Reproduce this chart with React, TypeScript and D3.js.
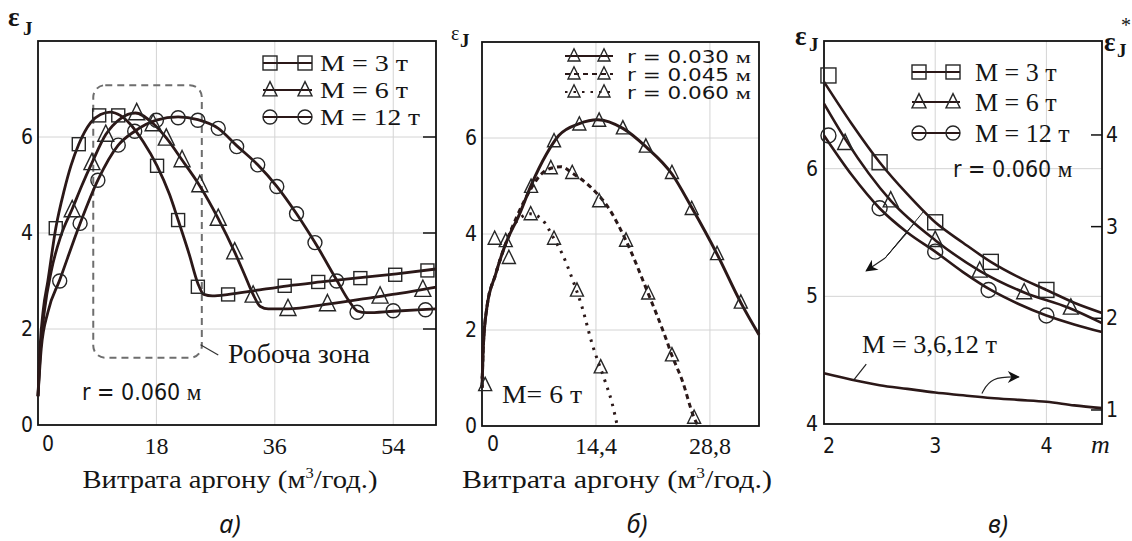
'use client';

import React, { useEffect, useRef } from 'react';
import * as d3 from 'd3';

type Pt = [number, number];

// ---------- panel а) : ε_J vs argon flow, r = 0.060 м ----------
const aXTicks = [0, 18, 36, 54];
const aYTicks = [0, 2, 4, 6];
const aGridX = [18, 36, 54];
const aGridY = [2, 4, 6];

const aM3Line: Pt[] = [[0, 0.6], [0.3, 1.6], [0.8, 2.4], [1.5, 3.0], [2.7, 4.1], [4, 4.9], [5, 5.4], [6.2, 5.85], [8, 6.3], [9.5, 6.47], [11, 6.52], [12.5, 6.45], [14, 6.27], [16, 5.9], [18.1, 5.4], [20, 4.8], [21.3, 4.27], [23, 3.55], [24.3, 2.95], [25.2, 2.72], [26.5, 2.69], [29, 2.72], [33, 2.8], [38, 2.9], [43, 2.98], [49, 3.07], [54.5, 3.15], [60.5, 3.25]];
const aM3Marks: Pt[] = [[2.7, 4.1], [6.2, 5.85], [9.3, 6.45], [12.2, 6.45], [18.1, 5.4], [21.3, 4.27], [24.3, 2.88], [28.9, 2.72], [37.5, 2.9], [42.6, 2.98], [49, 3.06], [54.3, 3.13], [59.2, 3.22]];

const aM6Line: Pt[] = [[0, 0.6], [0.4, 1.6], [1, 2.4], [2, 3.2], [3.5, 3.95], [5.2, 4.5], [6.7, 5.0], [8.2, 5.46], [10.3, 6.05], [12.5, 6.38], [14.8, 6.5], [17.5, 6.28], [19.5, 5.98], [21.9, 5.52], [24.6, 4.98], [27.4, 4.3], [29.9, 3.6], [31.5, 3.1], [32.7, 2.72], [33.8, 2.47], [35, 2.42], [38, 2.42], [44, 2.52], [51, 2.66], [55, 2.74], [60.5, 2.87]];
const aM6Marks: Pt[] = [[5.2, 4.48], [8.2, 5.46], [10.3, 6.05], [15, 6.5], [17.5, 6.27], [19.5, 5.97], [21.9, 5.52], [24.6, 5.0], [27.4, 4.3], [29.9, 3.6], [32.7, 2.7], [38, 2.42], [44, 2.52], [52, 2.68], [58.5, 2.82]];

const aM12Line: Pt[] = [[0, 0.6], [0.5, 1.6], [1.5, 2.35], [3.3, 3.02], [6.4, 4.2], [9.1, 5.1], [12.2, 5.83], [14.7, 6.12], [18, 6.35], [21.3, 6.42], [24.3, 6.36], [27.4, 6.18], [30.2, 5.82], [33.4, 5.42], [36.3, 4.97], [39.3, 4.4], [42.1, 3.8], [45.4, 3.02], [47.3, 2.58], [48.6, 2.37], [50, 2.34], [54, 2.37], [60.5, 2.42]];
const aM12Marks: Pt[] = [[3.3, 3.0], [6.4, 4.2], [9.1, 5.1], [12.2, 5.83], [14.7, 6.12], [18, 6.35], [21.3, 6.4], [24.3, 6.35], [27.4, 6.18], [30.2, 5.8], [33.4, 5.42], [36.3, 4.97], [39.3, 4.4], [42.1, 3.8], [45.4, 3.0], [48.5, 2.35], [54, 2.38], [58.9, 2.4]];

const aZone = { x0: 8.4, x1: 24.9, y0: 1.4, y1: 7.08 };
const aZoneLeader: Pt[] = [[24.7, 1.67], [27.4, 1.46]];
const aLegend = ['M = 3 т', 'M = 6 т', 'M = 12 т'];

// ---------- panel б) : M = 6 т, different r ----------
const bXTicks = [0, 14.4, 28.8];
const bXTickLabels = ['0', '14,4', '28,8'];
const bYTicks = [0, 2, 4, 6];
const bGridX = [14.4, 28.8];
const bGridY = [2, 4, 6];

const bR030Line: Pt[] = [[0, 0.8], [0.15, 1.6], [0.6, 2.45], [1.7, 3.15], [3, 3.8], [4.7, 4.4], [6.3, 5.05], [8.1, 5.65], [9.7, 6.05], [12.3, 6.3], [14.6, 6.38], [17.8, 6.2], [20.7, 5.82], [24, 5.25], [26.5, 4.55], [29.7, 3.58], [32.7, 2.57], [35, 1.9]];
const bR030Marks: Pt[] = [[3, 3.85], [6.2, 4.98], [9.1, 5.93], [12.3, 6.28], [14.8, 6.36], [17.8, 6.2], [20.7, 5.82], [24, 5.27], [26.5, 4.52], [29.7, 3.58], [32.7, 2.57]];

const bR045Line: Pt[] = [[0, 0.8], [0.15, 1.6], [0.6, 2.45], [1.7, 3.15], [3, 3.8], [4.5, 4.4], [6.2, 4.95], [7.5, 5.25], [8.7, 5.37], [10, 5.4], [11.4, 5.27], [13.9, 4.95], [16, 4.54], [18.2, 3.86], [21, 2.76], [23.2, 1.84], [24, 1.47], [25.3, 0.95], [26.8, 0.17], [27.3, 0]];
const bR045Marks: Pt[] = [[3.4, 3.5], [8.7, 5.37], [11.4, 5.27], [14.8, 4.68], [18.2, 3.86], [21, 2.76], [24, 1.47], [26.8, 0.17]];

const bR060Line: Pt[] = [[0, 0.8], [0.15, 1.6], [0.6, 2.45], [1.7, 3.15], [3, 3.8], [4.3, 4.25], [6.1, 4.42], [7.6, 4.3], [9.1, 3.9], [10.1, 3.6], [11.4, 3.07], [12.6, 2.5], [13.9, 1.72], [15.6, 0.91], [16.4, 0.5], [17.1, 0]];
const bR060Marks: Pt[] = [[0.4, 0.85], [1.6, 3.9], [6.15, 4.41], [9.1, 3.9], [12, 2.82], [15, 1.22]];
const bLegend = ['r = 0.030 ', 'r = 0.045 ', 'r = 0.060 '];

// ---------- panel в) : ε_J and ε*_J vs m ----------
const cXTicks = [2, 3, 4];
const cYTicksL = [4, 5, 6];
const cYTicksR = [1, 2, 3, 4];
const cGridX = [3, 4];
const cGridY = [5, 6];

const cM3Line: Pt[] = [[2, 6.68], [2.25, 6.35], [2.5, 6.05], [2.75, 5.8], [3, 5.58], [3.25, 5.42], [3.5, 5.27], [3.75, 5.15], [4, 5.05], [4.25, 4.95], [4.5, 4.87]];
const cM3Marks: Pt[] = [[2.04, 6.73], [2.5, 6.05], [3, 5.58], [3.5, 5.27], [4, 5.05]];
const cM6Line: Pt[] = [[2, 6.51], [2.2, 6.22], [2.6, 5.75], [3, 5.44], [3.4, 5.2], [3.8, 5.03], [4.2, 4.91], [4.5, 4.79]];
const cM6Marks: Pt[] = [[2.19, 6.2], [2.6, 5.75], [3, 5.44], [3.4, 5.2], [3.8, 5.03], [4.22, 4.91]];
const cM12Line: Pt[] = [[2, 6.26], [2.25, 5.95], [2.5, 5.69], [2.75, 5.5], [3, 5.35], [3.25, 5.19], [3.5, 5.05], [3.75, 4.94], [4, 4.85], [4.25, 4.78], [4.5, 4.72]];
const cM12Marks: Pt[] = [[2.04, 6.26], [2.5, 5.69], [3, 5.35], [3.48, 5.05], [4, 4.85]];
// right axis (ε*_J), same for M = 3, 6, 12 т
const cStarLine: Pt[] = [[2, 1.4], [2.25, 1.33], [2.5, 1.27], [2.75, 1.23], [3, 1.19], [3.25, 1.16], [3.5, 1.13], [3.75, 1.11], [4, 1.09], [4.25, 1.05], [4.5, 1.02]];

const cArrowFrom: Pt[] = [[2.9, 5.67], [2.82, 5.58], [2.75, 5.5]];
const cArrowJoin: Pt = [2.55, 5.3];
const cArrowTip: Pt = [2.38, 5.2];
const cStarArrow: Pt[] = [[3.42, 1.18], [3.5, 1.36], [3.75, 1.36]];
const cStarLeader: Pt[] = [[2.27, 1.33], [2.38, 1.5]];
const cLegend = ['M = 3 т', 'M = 6 т', 'M = 12 т'];

const SERIF = "'Liberation Serif', 'Times New Roman', serif";
const SANS = "'Liberation Sans Narrow', 'DejaVu Sans Condensed', 'Liberation Sans', sans-serif";
const INK = '#2b1818';
const GRID = '#d4d4d4';

function addText(g: any, x: number, y: number, str: string, o: any = {}) {
  const t = g.append('text')
    .attr('x', x)
    .attr('y', y)
    .attr('font-family', o.family || SERIF)
    .attr('font-size', o.size || 26)
    .attr('font-weight', o.weight || 'normal')
    .attr('font-style', o.style || 'normal')
    .attr('text-anchor', o.anchor || 'start')
    .attr('fill', '#151515')
    .text(str);
  if (o.len) t.attr('textLength', o.len).attr('lengthAdjust', 'spacingAndGlyphs');
  return t;
}

function marker(g: any, kind: string, cx: number, cy: number, s: number) {
  let m;
  if (kind === 'square') {
    m = g.append('rect').attr('x', cx - s / 2).attr('y', cy - s / 2).attr('width', s).attr('height', s);
  } else if (kind === 'triangle') {
    m = g.append('path').attr('d', `M${cx},${cy - s * 0.6}L${cx + s / 2},${cy + s * 0.42}L${cx - s / 2},${cy + s * 0.42}Z`);
  } else {
    m = g.append('circle').attr('cx', cx).attr('cy', cy).attr('r', s / 2);
  }
  m.attr('fill', 'none').attr('stroke', '#262626').attr('stroke-width', 1.4);
}

function frame(g: any, x: any, y: any, gx: number[], gy: number[]) {
  const [x0, x1] = x.range();
  const [y0, y1] = y.range();
  g.selectAll(null).data(gx).enter().append('line')
    .attr('x1', (d: number) => x(d)).attr('x2', (d: number) => x(d))
    .attr('y1', y0).attr('y2', y1)
    .attr('stroke', GRID).attr('stroke-width', 1);
  g.selectAll(null).data(gy).enter().append('line')
    .attr('y1', (d: number) => y(d)).attr('y2', (d: number) => y(d))
    .attr('x1', x0).attr('x2', x1)
    .attr('stroke', GRID).attr('stroke-width', 1);
  g.append('rect')
    .attr('x', x0).attr('y', y1)
    .attr('width', x1 - x0).attr('height', y0 - y1)
    .attr('fill', 'none').attr('stroke', '#111').attr('stroke-width', 1.8);
}

function curve(g: any, pts: Pt[], x: any, y: any, o: any = {}) {
  const line = d3.line<Pt>()
    .x(d => x(d[0]))
    .y(d => y(d[1]))
    .curve(o.straight ? d3.curveLinear : d3.curveMonotoneX);
  const p = g.append('path')
    .datum(pts)
    .attr('fill', 'none')
    .attr('stroke', o.color || INK)
    .attr('stroke-width', o.width || 2.8)
    .attr('stroke-linejoin', 'round')
    .attr('d', line);
  if (o.dash) p.attr('stroke-dasharray', o.dash);
  if (o.arrow) p.attr('marker-end', 'url(#arrowHead)');
  return p;
}

function marks(g: any, pts: Pt[], kind: string, x: any, y: any, s: number) {
  pts.forEach(d => marker(g, kind, x(d[0]), y(d[1]), s));
}

function axisTitle(g: any, cx: number, len: number) {
  const t = g.append('text')
    .attr('x', cx).attr('y', 488)
    .attr('text-anchor', 'middle')
    .attr('font-family', SERIF).attr('font-size', 26)
    .attr('fill', '#151515')
    .attr('textLength', len).attr('lengthAdjust', 'spacingAndGlyphs');
  t.append('tspan').text('Витрата аргону (м');
  t.append('tspan').attr('font-size', 15).attr('dy', -10).text('3');
  t.append('tspan').attr('dy', 10).text('/год.)');
}

export default function App() {
  const svgRef = useRef<SVGSVGElement>(null);

  useEffect(() => {
    if (!svgRef.current) return;
    const svg = d3.select(svgRef.current);
    svg.selectAll('*').remove();

    svg.append('defs').append('marker')
      .attr('id', 'arrowHead')
      .attr('viewBox', '0 0 10 10')
      .attr('refX', 9).attr('refY', 5)
      .attr('markerWidth', 16).attr('markerHeight', 12)
      .attr('markerUnits', 'userSpaceOnUse')
      .attr('orient', 'auto')
      .append('path')
      .attr('d', 'M0,0L10,5L0,10L3,5Z')
      .attr('fill', '#111');

    svg.append('rect').attr('width', 1132).attr('height', 541).attr('fill', '#fff');

    // ================= а) =================
    const ga = svg.append('g');
    const xa = d3.scaleLinear().domain([0, 60.5]).range([38, 436]);
    const ya = d3.scaleLinear().domain([0, 8]).range([425, 41]);
    frame(ga, xa, ya, aGridX, aGridY);

    aGridY.forEach(v => {
      ga.append('line').attr('x1', xa.range()[1] - 13).attr('x2', xa.range()[1])
        .attr('y1', ya(v)).attr('y2', ya(v)).attr('stroke', '#111').attr('stroke-width', 1.5);
    });

    // working zone
    ga.append('rect')
      .attr('x', xa(aZone.x0)).attr('y', ya(aZone.y1))
      .attr('width', xa(aZone.x1) - xa(aZone.x0))
      .attr('height', ya(aZone.y0) - ya(aZone.y1))
      .attr('rx', 12)
      .attr('fill', 'none').attr('stroke', '#6e6e6e')
      .attr('stroke-width', 2).attr('stroke-dasharray', '7,5');
    curve(ga, aZoneLeader, xa, ya, { straight: true, width: 1.2, color: '#333' });
    addText(ga, 228, 363, 'Робоча зона', { size: 27, len: 142 });

    curve(ga, aM3Line, xa, ya);
    curve(ga, aM6Line, xa, ya);
    curve(ga, aM12Line, xa, ya);
    marks(ga, aM3Marks, 'square', xa, ya, 13);
    marks(ga, aM6Marks, 'triangle', xa, ya, 16);
    marks(ga, aM12Marks, 'circle', xa, ya, 14);

    const rA = addText(ga, 82, 400, 'r = 0.060 ', { family: SANS, size: 23 });
    rA.append('tspan').attr('font-family', SERIF).text('м');

    const aKinds = ['square', 'triangle', 'circle'];
    const aRows = [63, 90, 117];
    const aLens = [88, 88, 100];
    aLegend.forEach((lab, i) => {
      const cy = aRows[i];
      ga.append('line').attr('x1', 263).attr('x2', 312).attr('y1', cy).attr('y2', cy)
        .attr('stroke', INK).attr('stroke-width', 2);
      marker(ga, aKinds[i], 270, cy, 14);
      marker(ga, aKinds[i], 305, cy, 14);
      addText(ga, 320, cy + 8, lab, { size: 23, len: aLens[i] });
    });

    aYTicks.forEach(v => addText(ga, 33, ya(v) + 7, String(v), { family: SANS, size: 21, anchor: 'end' }));
    aXTicks.forEach(v => {
      if (v === 0) addText(ga, 42, 451, '0', { family: SANS, size: 21 });
      else addText(ga, xa(v), 454, String(v), { size: 24, anchor: 'middle' });
    });
    axisTitle(ga, 230, 295);
    addText(ga, 8, 26, 'ε', { size: 27, weight: 'bold' });
    addText(ga, 23, 35, 'J', { size: 19, weight: 'bold' });
    addText(ga, 230, 533, 'а)', { family: "'Noto Sans', sans-serif", size: 25, style: 'italic', anchor: 'middle' });

    // ================= б) =================
    const gb = svg.append('g');
    const xb = d3.scaleLinear().domain([0, 35]).range([482, 759]);
    const yb = d3.scaleLinear().domain([0, 8]).range([426, 42]);
    frame(gb, xb, yb, bGridX, bGridY);

    curve(gb, bR060Line, xb, yb, { dash: '2.5,6', width: 3 });
    curve(gb, bR045Line, xb, yb, { dash: '5,4', width: 3 });
    curve(gb, bR030Line, xb, yb, { width: 3 });
    marks(gb, bR030Marks, 'triangle', xb, yb, 13);
    marks(gb, bR045Marks, 'triangle', xb, yb, 13);
    marks(gb, bR060Marks, 'triangle', xb, yb, 13);

    const bDash = [null, '5,4', '2.5,6'];
    const bRows = [56, 74, 92];
    bLegend.forEach((lab, i) => {
      const cy = bRows[i];
      const l = gb.append('line').attr('x1', 565).attr('x2', 613).attr('y1', cy).attr('y2', cy)
        .attr('stroke', INK).attr('stroke-width', 2);
      if (bDash[i]) l.attr('stroke-dasharray', bDash[i]);
      marker(gb, 'triangle', 574, cy, 12);
      marker(gb, 'triangle', 604, cy, 12);
      const t = addText(gb, 627, cy + 7, lab, { family: SANS, size: 17, len: 124 });
      t.append('tspan').attr('font-family', SERIF).text('м');
    });

    addText(gb, 502, 403, 'M= 6 т', { size: 26, len: 80 });

    bYTicks.forEach(v => addText(gb, 477, yb(v) + 7, String(v), { family: SANS, size: 21, anchor: 'end' }));
    bXTicks.forEach((v, i) => {
      if (v === 0) addText(gb, 487, 451, '0', { family: SANS, size: 21 });
      else addText(gb, xb(v), 454, bXTickLabels[i], { size: 24, anchor: 'middle' });
    });
    axisTitle(gb, 617, 310);
    addText(gb, 451, 40, 'ε', { size: 20 });
    addText(gb, 460, 47, 'J', { size: 19, weight: 'bold' });
    addText(gb, 637, 533, 'б)', { family: "'Noto Sans', sans-serif", size: 25, style: 'italic', anchor: 'middle' });

    // ================= в) =================
    const gc = svg.append('g');
    const xc = d3.scaleLinear().domain([2, 4.5]).range([824, 1102]);
    const yc = d3.scaleLinear().domain([4, 7]).range([424, 41]);
    const ycR = d3.scaleLinear().domain([0.847, 5.025]).range([424, 41]);
    frame(gc, xc, yc, cGridX, cGridY);

    cYTicksR.forEach(v => {
      gc.append('line').attr('x1', xc.range()[1] - 11).attr('x2', xc.range()[1])
        .attr('y1', ycR(v)).attr('y2', ycR(v)).attr('stroke', '#111').attr('stroke-width', 1.5);
    });

    curve(gc, cM3Line, xc, yc, { width: 2.6 });
    curve(gc, cM6Line, xc, yc, { width: 2.6 });
    curve(gc, cM12Line, xc, yc, { width: 2.6 });
    marks(gc, cM3Marks, 'square', xc, yc, 15);
    marks(gc, cM6Marks, 'triangle', xc, yc, 15);
    marks(gc, cM12Marks, 'circle', xc, yc, 15);
    curve(gc, cStarLine, xc, ycR, { width: 2.6 });

    // arrows
    cArrowFrom.forEach(p => curve(gc, [p, cArrowJoin], xc, yc, { straight: true, width: 1, color: '#222' }));
    curve(gc, [cArrowJoin, cArrowTip], xc, yc, { straight: true, width: 1.2, color: '#222', arrow: true });
    gc.append('path')
      .datum(cStarArrow)
      .attr('fill', 'none').attr('stroke', '#222').attr('stroke-width', 1.2)
      .attr('marker-end', 'url(#arrowHead)')
      .attr('d', d3.line<Pt>().x(d => xc(d[0])).y(d => ycR(d[1])).curve(d3.curveBasis));
    curve(gc, cStarLeader, xc, ycR, { straight: true, width: 1.2, color: '#222' });
    addText(gc, 862, 353, 'M = 3,6,12 т', { size: 26, len: 135 });

    const rC = addText(gc, 953, 177, 'r = 0.060 ', { family: SANS, size: 23 });
    rC.append('tspan').attr('font-family', SERIF).text('м');

    const cKinds = ['square', 'triangle', 'circle'];
    const cRows = [72, 102, 133];
    cLegend.forEach((lab, i) => {
      const cy = cRows[i];
      gc.append('line').attr('x1', 912).attr('x2', 960).attr('y1', cy).attr('y2', cy)
        .attr('stroke', INK).attr('stroke-width', 2);
      marker(gc, cKinds[i], 919, cy, 14);
      marker(gc, cKinds[i], 953, cy, 14);
      addText(gc, 975, cy + 9, lab, { size: 26 });
    });

    cYTicksL.forEach(v => addText(gc, 818, yc(v) + 7, String(v), { family: SANS, size: 21, anchor: 'end' }));
    cYTicksR.forEach(v => addText(gc, 1106, ycR(v) + 7, String(v), { family: SANS, size: 21 }));
    cXTicks.forEach(v => addText(gc, v === 2 ? xc(v) + 5 : xc(v), 453, String(v), { family: SANS, size: 21, anchor: 'middle' }));
    addText(gc, 1091, 453, 'm', { size: 26, style: 'italic' });

    addText(gc, 795, 45, 'ε', { size: 27, weight: 'bold' });
    addText(gc, 809, 51, 'J', { size: 19, weight: 'bold' });
    addText(gc, 1104, 51, 'ε', { size: 27, weight: 'bold' });
    addText(gc, 1117, 57, 'J', { size: 19, weight: 'bold' });
    addText(gc, 1121, 32, '*', { size: 20 });
    addText(gc, 998, 533, 'в)', { family: "'Noto Sans', sans-serif", size: 25, style: 'italic', anchor: 'middle' });
  }, []);

  return (
    <svg
      ref={svgRef}
      width={1132}
      height={541}
      style={{ position: 'absolute', left: 0, top: 0, display: 'block' }}
    />
  );
}
